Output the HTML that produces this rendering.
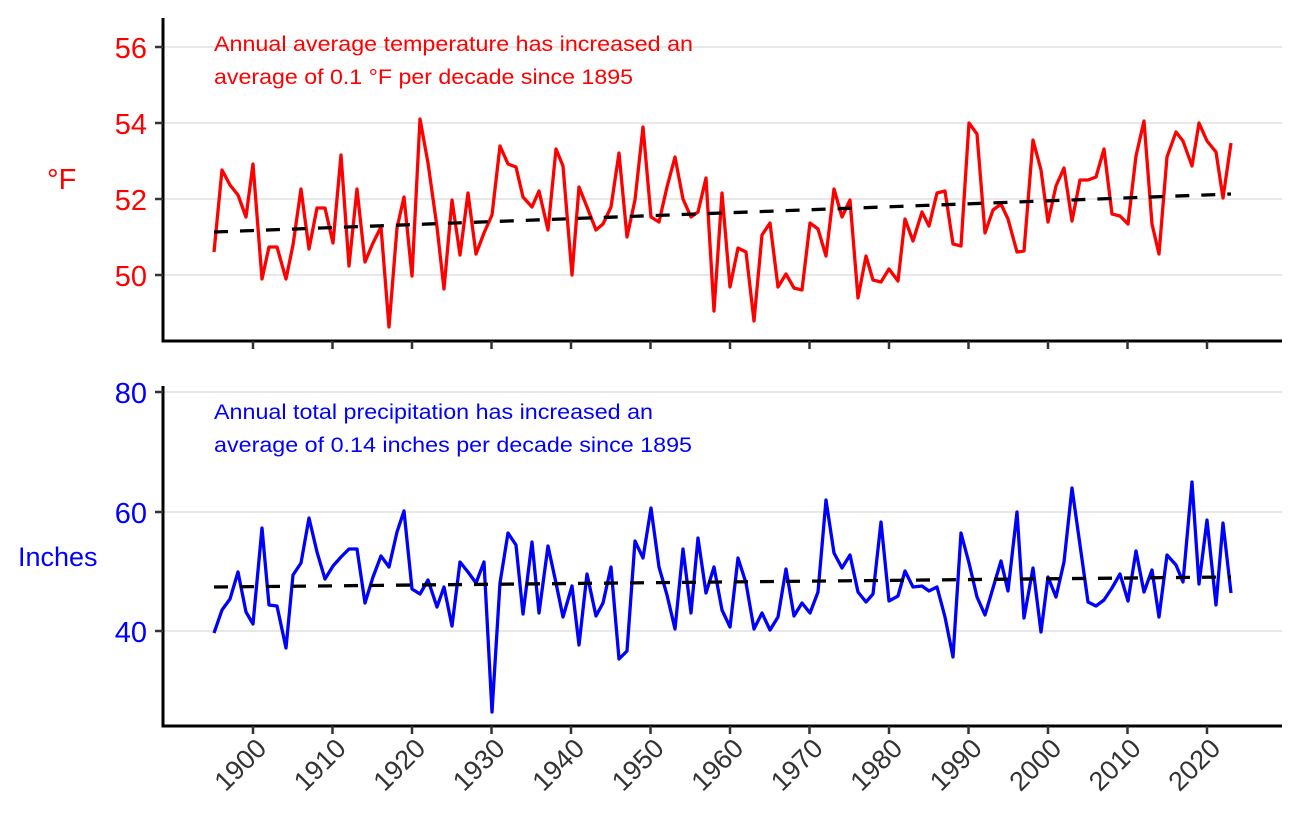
<!DOCTYPE html>
<html><head><meta charset="utf-8"><style>html,body{margin:0;padding:0;background:#fff}svg{display:block}</style></head>
<body>
<svg width="1300" height="827" viewBox="0 0 1300 827" xmlns="http://www.w3.org/2000/svg" font-family="'Liberation Sans', Arial, sans-serif">
<g stroke="#d9d9d9" stroke-width="1.2">
<line x1="163" y1="47" x2="1282" y2="47"/><line x1="163" y1="123" x2="1282" y2="123"/><line x1="163" y1="199" x2="1282" y2="199"/><line x1="163" y1="275" x2="1282" y2="275"/>
<line x1="163" y1="392" x2="1282" y2="392"/><line x1="163" y1="512" x2="1282" y2="512"/><line x1="163" y1="631" x2="1282" y2="631"/>
</g>
<text x="214" y="51" fill="#ff0000" font-size="21.5" textLength="479" lengthAdjust="spacingAndGlyphs">Annual average temperature has increased an</text>
<text x="214" y="84" fill="#ff0000" font-size="21.5" textLength="419" lengthAdjust="spacingAndGlyphs">average of 0.1 °F per decade since 1895</text>
<text x="214" y="419" fill="#0000ff" font-size="21.5" textLength="439" lengthAdjust="spacingAndGlyphs">Annual total precipitation has increased an</text>
<text x="214" y="452" fill="#0000ff" font-size="21.5" textLength="478" lengthAdjust="spacingAndGlyphs">average of 0.14 inches per decade since 1895</text>
<polyline fill="none" stroke="#ff0000" stroke-width="3.3" stroke-linejoin="round" points="214,252 222,170 230,185 238,195 246,217 253,164 262,279 269,247 277,247 286,279 293,245 301,189 309,249 317,208 325,208 333,243 341,155 349,266 357,189 365,262 373,243 381,227 389,327 397,228 404,197 412,276 420,119 428,163 437,227 444,289 452,200 460,255 468,193 476,254 484,233 492,215 500,146 508,164 516,167 523,197 532,207 539,191 548,230 556,149 563,166 572,275 579,187 587,207 596,230 603,224 611,207 619,153 627,237 635,200 643,127 651,217 659,222 667,187 675,157 683,199 691,217 698,212 706,178 714,311 722,193 730,287 738,248 746,252 754,321 762,235 770,223 778,287 786,274 794,288 802,290 810,223 818,229 826,256 834,189 842,217 850,200 858,298 866,256 873,280 881,282 889,269 898,281 905,219 913,241 922,212 929,226 937,193 945,191 953,244 961,246 969,123 977,134 985,233 993,210 1001,204 1008,219 1017,252 1024,251 1033,140 1041,170 1048,222 1056,186 1064,168 1072,221 1080,180 1088,180 1096,177 1104,149 1112,214 1120,216 1128,224 1136,156 1144,121 1152,224 1159,254 1167,157 1176,132 1183,141 1192,166 1199,123 1207,141 1216,152 1223,198 1231,143"/>
<line x1="214" y1="232" x2="1231" y2="194" stroke="#000" stroke-width="3.3" stroke-dasharray="14,12"/>
<polyline fill="none" stroke="#0000ff" stroke-width="3.3" stroke-linejoin="round" points="214,633 222,610 230,599 238,572 246,612 253,624 262,528 269,605 277,606 286,648 293,575 301,563 309,518 317,552 325,579 333,566 341,557 349,549 357,549 365,603 373,577 381,556 389,567 397,532 404,511 412,589 420,594 428,580 437,607 444,587 452,626 460,562 468,572 476,583 484,562 492,712 500,583 508,533 516,545 523,614 532,542 539,613 548,546 556,583 563,617 572,586 579,645 587,574 596,616 603,603 611,567 619,659 627,651 635,541 643,558 651,508 659,567 667,595 675,629 683,549 691,613 698,538 706,593 714,567 722,610 730,627 738,558 746,583 754,629 762,613 770,630 778,617 786,569 794,616 802,603 810,613 818,592 826,500 834,553 842,568 850,555 858,592 866,602 873,594 881,522 889,601 898,596 905,571 913,587 922,586 929,591 937,587 945,617 953,657 961,533 969,563 977,597 985,615 993,588 1001,561 1008,591 1017,512 1024,618 1033,568 1041,632 1048,577 1056,597 1064,562 1072,488 1080,545 1088,602 1096,606 1104,600 1112,588 1120,574 1128,601 1136,551 1144,592 1152,570 1159,617 1167,555 1176,565 1183,582 1192,482 1199,584 1207,520 1216,605 1223,523 1231,593"/>
<line x1="214" y1="587" x2="1231" y2="577" stroke="#000" stroke-width="3.3" stroke-dasharray="14,12"/>
<g stroke="#000" stroke-width="3" fill="none">
<polyline points="163,18 163,341 1282,341"/>
<polyline points="163,386 163,726 1282,726"/>
</g>
<g stroke="#333" stroke-width="2.5">
<line x1="155" y1="47" x2="163" y2="47"/><line x1="155" y1="123" x2="163" y2="123"/><line x1="155" y1="199" x2="163" y2="199"/><line x1="155" y1="275" x2="163" y2="275"/>
<line x1="155" y1="392" x2="163" y2="392"/><line x1="155" y1="512" x2="163" y2="512"/><line x1="155" y1="631" x2="163" y2="631"/>
<line x1="253" y1="341" x2="253" y2="349"/><line x1="332.5" y1="341" x2="332.5" y2="349"/><line x1="412" y1="341" x2="412" y2="349"/><line x1="491.5" y1="341" x2="491.5" y2="349"/><line x1="571" y1="341" x2="571" y2="349"/><line x1="650.5" y1="341" x2="650.5" y2="349"/><line x1="730" y1="341" x2="730" y2="349"/><line x1="809.5" y1="341" x2="809.5" y2="349"/><line x1="889" y1="341" x2="889" y2="349"/><line x1="968.5" y1="341" x2="968.5" y2="349"/><line x1="1048" y1="341" x2="1048" y2="349"/><line x1="1127.5" y1="341" x2="1127.5" y2="349"/><line x1="1207" y1="341" x2="1207" y2="349"/>
<line x1="253" y1="726" x2="253" y2="734"/><line x1="332.5" y1="726" x2="332.5" y2="734"/><line x1="412" y1="726" x2="412" y2="734"/><line x1="491.5" y1="726" x2="491.5" y2="734"/><line x1="571" y1="726" x2="571" y2="734"/><line x1="650.5" y1="726" x2="650.5" y2="734"/><line x1="730" y1="726" x2="730" y2="734"/><line x1="809.5" y1="726" x2="809.5" y2="734"/><line x1="889" y1="726" x2="889" y2="734"/><line x1="968.5" y1="726" x2="968.5" y2="734"/><line x1="1048" y1="726" x2="1048" y2="734"/><line x1="1127.5" y1="726" x2="1127.5" y2="734"/><line x1="1207" y1="726" x2="1207" y2="734"/>
</g>
<g fill="#ff0000" font-size="29" text-anchor="end">
<text x="147" y="58">56</text><text x="147" y="134">54</text><text x="147" y="210">52</text><text x="147" y="286">50</text>
</g>
<g fill="#0000ff" font-size="29" text-anchor="end">
<text x="147" y="403">80</text><text x="147" y="523">60</text><text x="147" y="642">40</text>
</g>
<text x="47" y="189" fill="#ff0000" font-size="29">°F</text>
<text x="18" y="566" fill="#0000ff" font-size="27">Inches</text>
<g fill="#333" font-size="27" text-anchor="end">
<text transform="translate(268,750) rotate(-45)">1900</text>
<text transform="translate(347.5,750) rotate(-45)">1910</text>
<text transform="translate(427,750) rotate(-45)">1920</text>
<text transform="translate(506.5,750) rotate(-45)">1930</text>
<text transform="translate(586,750) rotate(-45)">1940</text>
<text transform="translate(665.5,750) rotate(-45)">1950</text>
<text transform="translate(745,750) rotate(-45)">1960</text>
<text transform="translate(824.5,750) rotate(-45)">1970</text>
<text transform="translate(904,750) rotate(-45)">1980</text>
<text transform="translate(983.5,750) rotate(-45)">1990</text>
<text transform="translate(1063,750) rotate(-45)">2000</text>
<text transform="translate(1142.5,750) rotate(-45)">2010</text>
<text transform="translate(1222,750) rotate(-45)">2020</text>
</g>
</svg>
</body></html>
